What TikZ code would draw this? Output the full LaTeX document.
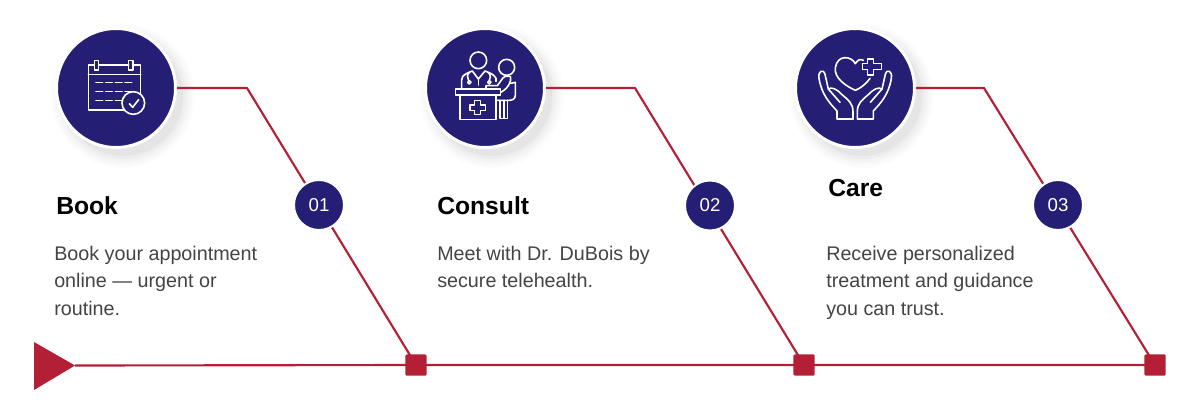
\documentclass[tikz,border=0pt]{standalone}
\usepackage{fontspec}
\setmainfont{Liberation Sans}
\usetikzlibrary{backgrounds}
\definecolor{navy}{HTML}{241F74}
\definecolor{crim}{HTML}{B32036}
\definecolor{bodytxt}{HTML}{444444}
\tikzset{
  x=0.75pt,y=-0.75pt,
  bigc/.style={circle,fill=navy,draw=white,line width=2.25pt,minimum size=89.25pt,inner sep=0pt,outer sep=0pt},
  numc/.style={circle,fill=navy,draw=white,line width=1.5pt,minimum size=37.5pt,inner sep=0pt,outer sep=0pt,text=white,font=\fontsize{14}{16}\selectfont},
  conn/.style={draw=crim,line width=1.6pt,line join=round},
  sq/.style={fill=crim,rounded corners=1pt,minimum size=16pt,inner sep=0pt,outer sep=0pt},
  head/.style={text=black,font=\bfseries\fontsize{18.5}{22}\selectfont,anchor=base west,inner sep=0pt},
  para/.style={text=bodytxt,font=\fontsize{14.8}{20.6}\selectfont,align=left,anchor=north west,inner sep=0pt},
  ico/.style={draw=white,line width=1.2pt,line join=round,line cap=round},
}
\newcommand{\softshadow}[2]{%
  \foreach \r/\o in {72/.012,69/.015,66/.02,63/.025,60/.03}{
    \fill[black,opacity=\o] (#1+7,#2+8) circle[radius=\r];
  }}
\begin{document}
\begin{tikzpicture}
\useasboundingbox (0,0) rectangle (1200,411);

\node[bigc] (c1) at (116,88) {};
\node[bigc] (c2) at (485,88) {};
\node[bigc] (c3) at (855,88) {};
\node[numc] (n1) at (319,205) {01};
\node[numc] (n2) at (710,205.5) {02};
\node[numc] (n3) at (1058,205) {03};
\node[sq] (s1) at (416,365) {};
\node[sq] (s2) at (804,365) {};
\node[sq] (s3) at (1155,365) {};
\coordinate (e1) at (247,88);
\coordinate (e2) at (635,88);
\coordinate (e3) at (984,88);
\coordinate (t0) at (75,365.5);

\begin{scope}[on background layer]
  \fill[white] (0,0) rectangle (1200,411);
  \softshadow{116}{88}
  \softshadow{485}{88}
  \softshadow{855}{88}
  \draw[conn] (c1.east) -- (e1) -- (s1.center);
  \draw[conn] (c2.east) -- (e2) -- (s2.center);
  \draw[conn] (c3.east) -- (e3) -- (s3.center);
  \draw[conn] (t0) -- (s1.center) -- (s2.center) -- (s3.center);
  \fill[crim] (34,342) -- (t0) -- (34,390) -- cycle;
\end{scope}

% calendar icon
\begin{scope}[shift={(40,15)},x=0.25pt,y=-0.25pt]
  \draw[ico] (163,150) -- (145,150) -- (145,285) -- (302,285) -- (302,150) -- (279,150);
  \draw[ico] (176,150) -- (266,150);
  \draw[ico] (145,178) -- (302,178);
  \draw[ico] (163,137) rectangle (176,165);
  \draw[ico] (266,137) rectangle (279,165);
  \foreach \y in {203,230,257}{
    \foreach \a in {168,197,226,255}{
      \draw[ico] (\a,\y) -- (\a+20,\y);
    }
  }
  \draw[ico,fill=navy] (280,264) circle[radius=34];
  \draw[ico] (268,266) -- (278,277) -- (296,254);
\end{scope}

% consult icon
\begin{scope}[shift={(410,15)},x=0.25pt,y=-0.25pt]
  \draw[ico] (205,136) circle[radius=25];
  \draw[ico] (290,157) circle[radius=24];
  \draw[ico] (155,222) -- (155,195) .. controls (155,180) and (170,175) .. (187,168) -- (205,192) -- (225,168) .. controls (240,174) and (252,178) .. (258,190) -- (258,200);
  \draw[ico] (205,192) -- (205,210);
  \draw[ico] (178,172) .. controls (170,180) and (172,190) .. (176,196);
  \draw[ico] (178,202) circle[radius=5];
  \draw[ico] (234,172) .. controls (244,180) and (242,190) .. (238,196);
  \draw[ico] (238,202) circle[radius=5];
  \draw[ico] (228,222) -- (228,212) -- (262,212) -- (278,190) .. controls (284,182) and (296,182) .. (302,186) .. controls (304,200) and (295,220) .. (272,232);
  \draw[ico] (137,222) rectangle (272,240);
  \draw[ico] (150,240) -- (150,313) -- (258,313) -- (258,240);
  \draw[ico] (194,257) -- (212,257) -- (212,270) -- (226,270) -- (226,287) -- (212,287) -- (212,299) -- (194,299) -- (194,287) -- (180,287) -- (180,270) -- (194,270) -- cycle;
  \draw[ico] (302,205) -- (316,202) -- (316,240) .. controls (316,252) and (308,256) .. (296,256) -- (258,256);
  \draw[ico] (270,256) -- (270,310) -- (293,310) -- (293,256);
  \draw[ico] (282,256) -- (282,310);
\end{scope}

% care icon
\begin{scope}[shift={(780,15)},x=0.25pt,y=-0.25pt]
  \draw[ico] (250,136) .. controls (240,130) and (232,136) .. (226,146) .. controls (214,122) and (172,118) .. (166,158) .. controls (162,188) and (195,212) .. (226,226) .. controls (240,220) and (258,208) .. (270,190);
  \draw[ico] (262,132) -- (280,132) -- (280,146) -- (304,146) -- (304,163) -- (280,163) -- (280,180) -- (262,180) -- (262,163) -- (248,163) -- (248,146) -- (262,146) -- cycle;
  % left hand
  \draw[ico] (219,312) -- (171,312) -- (171,288) .. controls (150,265) and (125,240) .. (117,190) .. controls (113,168) and (130,160) .. (135,178) -- (145,222) -- (180,262);
  \draw[ico] (145,222) .. controls (155,215) and (170,222) .. (185,238) .. controls (205,255) and (219,265) .. (219,290) -- (219,312);
  % right hand
  \draw[ico] (232,312) -- (280,312) -- (280,288) .. controls (301,265) and (326,240) .. (334,190) .. controls (338,168) and (321,160) .. (316,178) -- (306,222) -- (271,262);
  \draw[ico] (306,222) .. controls (296,215) and (281,222) .. (266,238) .. controls (246,255) and (232,265) .. (232,290) -- (232,312);
\end{scope}

\node[head] (h1) at (56,214) {Book};
\node[head] (h2) at (437,214) {Consult};
\node[head] (h3) at (828,196) {Care};
\node[para] (p1) at (54,245.5) {Book your appointment\\online — urgent or\\routine.};
\node[para] (p2) at (437,245.5) {Meet with Dr. DuBois by\\secure telehealth.};
\node[para] (p3) at (826,245.5) {Receive personalized\\treatment and guidance\\you can trust.};
\end{tikzpicture}
\end{document}
